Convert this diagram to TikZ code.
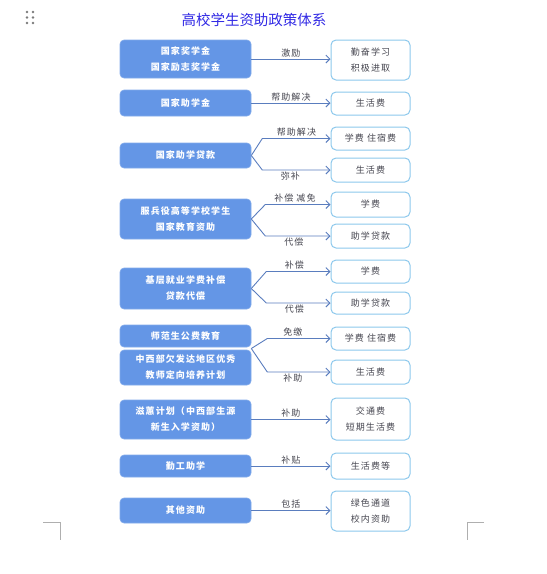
\documentclass[tikz,border=0pt]{standalone}
\usepackage{fontspec}
\setmainfont{Noto Sans CJK SC}
\newfontfamily\spacedcjk[LetterSpace=12]{Noto Sans CJK SC}
\usetikzlibrary{positioning,arrows.meta,calc}
\definecolor{titleblue}{RGB}{48,40,228}
\definecolor{boxblue}{RGB}{100,150,230}
\definecolor{edgeblue}{RGB}{140,200,236}
\definecolor{arrowblue}{RGB}{90,125,190}
\definecolor{labelgray}{RGB}{70,70,80}
\definecolor{markgray}{RGB}{175,175,175}

\begin{document}
\begin{tikzpicture}[
    x=1pt, y=-1pt,
    policy/.style={draw=boxblue!80!white, fill=boxblue, rounded corners=4pt,
                   minimum width=131pt, inner sep=0pt, line width=0.6pt,
                   text=white, align=center,
                   font=\spacedcjk\fontsize{9}{16}\selectfont\bfseries},
    result/.style={draw=edgeblue, fill=white, rounded corners=5pt,
                   minimum width=79pt, inner sep=0pt, line width=1pt,
                   text=labelgray, align=center,
                   font=\spacedcjk\fontsize{9}{16}\selectfont},
    lbl/.style={font=\spacedcjk\fontsize{9}{11}\selectfont, text=labelgray, inner sep=1.5pt},
    arr/.style={-{Straight Barb[length=4pt,width=8pt]}, draw=arrowblue, line width=0.9pt}
]
  \useasboundingbox (0,0) rectangle (547,574);

  % page marks
  \foreach \gx in {27,33}
    \foreach \gy in {12,17.5,23}
      \fill[markgray!70!black] (\gx,\gy) circle (1.3pt);
  \draw[markgray, line width=0.8pt] (43,522) -- (60,522) -- (60,540);
  \draw[markgray, line width=0.8pt] (484,522) -- (467,522) -- (467,540);

  \node[font=\fontsize{14.5}{18}\selectfont, text=titleblue] (title) at (254,20) {高校学生资助政策体系};

  % policies
  \node[policy, minimum height=38pt] (award)  at (185.5,59)    {国家奖学金\\国家励志奖学金};
  \node[policy, minimum height=26pt] (grant)  at (185.5,103)   {国家助学金};
  \node[policy, minimum height=25pt] (loan)   at (185.5,155.5) {国家助学贷款};
  \node[policy, minimum height=40pt] (army)   at (185.5,219)   {服兵役高等学校学生\\国家教育资助};
  \node[policy, minimum height=41pt] (grass)  at (185.5,288.5) {基层就业学费补偿\\贷款代偿};
  \node[policy, minimum height=22pt] (normal) at (185.5,336)   {师范生公费教育};
  \node[policy, minimum height=35pt] (west)   at (185.5,367.5) {中西部欠发达地区优秀\\教师定向培养计划};
  \node[policy, minimum height=39pt] (zihui)  at (185.5,419.5) {滋蕙计划（中西部生源\\新生入学资助）};
  \node[policy, minimum height=22pt] (work)   at (185.5,466)   {勤工助学};
  \node[policy, minimum height=25pt] (other)  at (185.5,510.5) {其他资助};

  % what they cover
  \node[result, minimum height=40pt] (study)    at (370.5,60)    {勤奋学习\\积极进取};
  \node[result, minimum height=23pt] (living1)  at (370.5,103.5) {生活费};
  \node[result, minimum height=23pt] (fee1)     at (370.5,138.5) {学费 住宿费};
  \node[result, minimum height=24pt] (living2)  at (370.5,170)   {生活费};
  \node[result, minimum height=25pt] (tuition1) at (370.5,204.5) {学费};
  \node[result, minimum height=24pt] (repay1)   at (370.5,236)   {助学贷款};
  \node[result, minimum height=23pt] (tuition2) at (370.5,271.5) {学费};
  \node[result, minimum height=22pt] (repay2)   at (370.5,303)   {助学贷款};
  \node[result, minimum height=23pt] (fee2)     at (370.5,338.5) {学费 住宿费};
  \node[result, minimum height=24pt] (living3)  at (370.5,372)   {生活费};
  \node[result, minimum height=42pt] (travel)   at (370.5,419)   {交通费\\短期生活费};
  \node[result, minimum height=26pt] (living4)  at (370.5,466)   {生活费等};
  \node[result, minimum height=40pt] (green)    at (370.5,511)   {绿色通道\\校内资助};

  % single arrows
  \draw[arr] (award.east) -- node[lbl, above] {激励}     (award.east -| study.west);
  \draw[arr] (grant.east) -- node[lbl, above] {帮助解决} (grant.east -| living1.west);
  \draw[arr] (zihui.east) -- node[lbl, above] {补助}     (zihui.east -| travel.west);
  \draw[arr] (work.east)  -- node[lbl, above] {补贴}     (work.east -| living4.west);
  \draw[arr] (other.east) -- node[lbl, above] {包括}     (other.east -| green.west);

  % forked arrows
  \coordinate (loanfork)  at ($(loan.east)+(11,0)$);
  \draw[arr] (loan.east) -- (loanfork |- fee1.west) -- node[lbl, above] {帮助解决} (fee1.west);
  \draw[arr] (loan.east) -- (loanfork |- living2.west) -- node[lbl, below, xshift=-6pt] {弥补} (living2.west);

  \coordinate (armyfork)  at ($(army.east)+(14,0)$);
  \draw[arr] (army.east) -- (armyfork |- tuition1.west) -- node[lbl, above, xshift=-3pt] {补偿 减免} (tuition1.west);
  \draw[arr] (army.east) -- (armyfork |- repay1.west) -- node[lbl, below, xshift=-4pt] {代偿} (repay1.west);

  \coordinate (grassfork) at ($(grass.east)+(15,0)$);
  \draw[arr] (grass.east) -- (grassfork |- tuition2.west) -- node[lbl, above, xshift=-4pt] {补偿} (tuition2.west);
  \draw[arr] (grass.east) -- (grassfork |- repay2.west) -- node[lbl, below, xshift=-4pt] {代偿} (repay2.west);

  \coordinate (teachjoin) at ($(normal.south east)!0.5!(west.north east)$);
  \coordinate (teachfork) at ($(teachjoin)+(16,0)$);
  \draw[arr] (teachjoin) -- (teachfork |- fee2.west) -- node[lbl, above, xshift=-6pt] {免缴} (fee2.west);
  \draw[arr] (teachjoin) -- (teachfork |- living3.west) -- node[lbl, below, xshift=-6pt] {补助} (living3.west);
\end{tikzpicture}
\end{document}
